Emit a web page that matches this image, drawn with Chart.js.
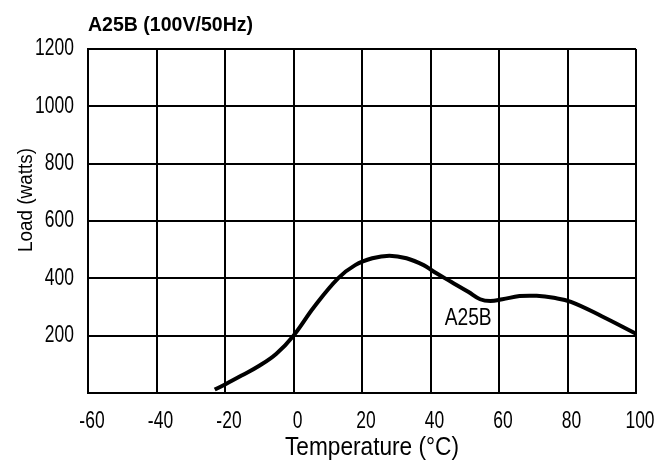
<!DOCTYPE html>
<html>
<head>
<meta charset="utf-8">
<script src="https://cdn.jsdelivr.net/npm/chart.js@4/dist/chart.umd.min.js"></script>
<style>
  html, body { margin: 0; padding: 0; background: #fff; }
  #wrap { width: 665px; height: 466px; }
</style>
</head>
<body>
<div id="wrap"><canvas id="LoadChart" width="665" height="466"></canvas></div>
<script>
var chartTitle = "A25B (100V/50Hz)";
var seriesName = "A25B";
var xTitle = "Temperature (°C)";
var yTitle = "Load (watts)";
var temps = [-23, -20, -15, -10, -5, 0, 6, 13, 18, 23, 28, 33, 38, 41, 46, 51, 54.5, 57.5, 61, 66, 71, 76, 81, 90, 100];
var loads = [12, 30, 62, 95, 137, 200, 300, 400, 446, 470, 479, 470, 446, 423, 388, 353, 327, 321, 327, 338, 339, 332, 318, 268, 207];
var xTicks = [-60, -40, -20, 0, 20, 40, 60, 80, 100];
var yTicks = [0, 200, 400, 600, 800, 1000, 1200];

var FONT = "'Liberation Sans', Arial, sans-serif";

var points = [];
for (var i = 0; i < temps.length; i++) {
    points.push({x: temps[i], y: loads[i]});
}

// narrow text: squeeze horizontally (reference uses a condensed face)
function narrowText(ctx, text, x, y, font, squeeze, align, rotate) {
    ctx.save();
    ctx.font = font;
    ctx.textBaseline = 'middle';
    ctx.textAlign = align;
    ctx.translate(x, y);
    if (rotate) ctx.rotate(-Math.PI / 2);
    ctx.scale(squeeze, 1);
    ctx.fillText(text, 0, 0);
    ctx.restore();
}

function fitSqueeze(ctx, text, font, width) {
    ctx.save();
    ctx.font = font;
    var w = ctx.measureText(text).width;
    ctx.restore();
    return width / w;
}

var textPlugin = {
    id: 'textPlugin',
    afterDraw: function(chart) {
        var ctx = chart.ctx;
        var xs = chart.scales.x, ys = chart.scales.y;
        var area = chart.chartArea;
        ctx.fillStyle = '#000';

        var tickFont = "23px " + FONT;
        for (var i = 0; i < yTicks.length; i++) {
            if (yTicks[i] === 0) continue;
            narrowText(ctx, String(yTicks[i]), area.left - 14, ys.getPixelForValue(yTicks[i]), tickFont, 0.76, 'right');
        }
        for (var j = 0; j < xTicks.length; j++) {
            narrowText(ctx, String(xTicks[j]), xs.getPixelForValue(xTicks[j]) + 4, area.bottom + 29, tickFont, 0.76, 'center');
        }

        var xtFont = "26px " + FONT;
        narrowText(ctx, xTitle, (area.left + area.right) / 2 + 10, area.bottom + 55, xtFont, fitSqueeze(ctx, xTitle, xtFont, 174), 'center');

        var ytFont = "21px " + FONT;
        narrowText(ctx, yTitle, 26, (area.top + area.bottom) / 2 - 21, ytFont, fitSqueeze(ctx, yTitle, ytFont, 104), 'center', true);

        var tFont = "bold 21px " + FONT;
        narrowText(ctx, chartTitle, area.left, 25, tFont, fitSqueeze(ctx, chartTitle, tFont, 165), 'left');

        var lFont = "23px " + FONT;
        narrowText(ctx, seriesName, xs.getPixelForValue(51), ys.getPixelForValue(258), lFont, fitSqueeze(ctx, seriesName, lFont, 47), 'center');
    }
};

new Chart(document.getElementById('LoadChart').getContext('2d'), {
    type: 'line',
    data: {
        datasets: [
            {
                label: seriesName,
                data: points,
                borderColor: '#000',
                backgroundColor: '#000',
                borderWidth: 4,
                pointRadius: 0,
                tension: 0.4,
                fill: false
            }
        ]
    },
    options: {
        responsive: false,
        animation: false,
        layout: { padding: { top: 49, left: 88, right: 29, bottom: 73 } },
        plugins: {
            legend: { display: false },
            tooltip: { enabled: false }
        },
        scales: {
            x: {
                type: 'linear',
                min: xTicks[0],
                max: xTicks[xTicks.length - 1],
                afterBuildTicks: function(axis) {
                    axis.ticks = xTicks.map(function(v) { return {value: v}; });
                },
                grid: { color: '#000', lineWidth: 2, drawTicks: false },
                border: { color: '#000', width: 2 },
                ticks: { display: false }
            },
            y: {
                min: yTicks[0],
                max: yTicks[yTicks.length - 1],
                afterBuildTicks: function(axis) {
                    axis.ticks = yTicks.map(function(v) { return {value: v}; });
                },
                grid: { color: '#000', lineWidth: 2, drawTicks: false },
                border: { color: '#000', width: 2 },
                ticks: { display: false }
            }
        }
    },
    plugins: [textPlugin]
});
</script>
</body>
</html>
